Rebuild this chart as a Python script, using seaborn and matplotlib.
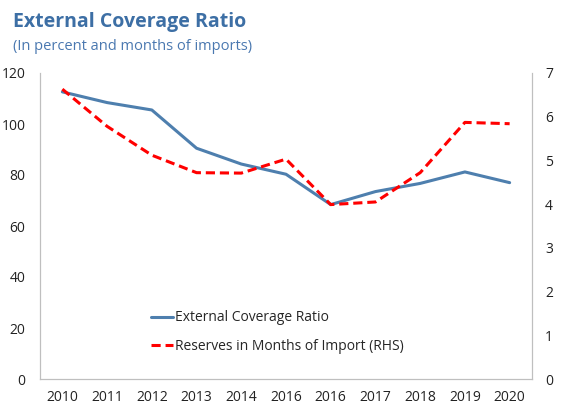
import numpy as np
import matplotlib.pyplot as plt
import pandas as pd
import seaborn as sns

anos = ["2010", "2011", "2012", "2013", "2014", "2016", "2016", "2017", "2018", "2019", "2020"]
cobertura = [112.6, 108.4, 105.5, 90.5, 84.3, 80.3, 68.4, 73.5, 76.7, 81.2, 77.0]
reservas = [6.63, 5.78, 5.12, 4.72, 4.71, 5.03, 3.99, 4.05, 4.72, 5.87, 5.84]

azul = "#4e7fae"
vermelho = "#ff0000"
cinza = "#bfbfbf"

sns.set_style("white")
plt.rcParams['font.family'] = ['Open Sans', 'DejaVu Sans']

df = pd.DataFrame({"pos": np.arange(len(anos)), "cobertura": cobertura, "reservas": reservas})

fig = plt.figure(figsize=(5.61, 4.11), dpi=100)
ax = fig.add_axes([40 / 561, 1 - 379 / 411, 492 / 561, 306 / 411])
ax2 = ax.twinx()

sns.lineplot(data=df, x="pos", y="cobertura", ax=ax, color=azul, linewidth=2.2,
             label="External Coverage Ratio", legend=False)
sns.lineplot(data=df, x="pos", y="reservas", ax=ax2, color=vermelho, linewidth=2.2,
             linestyle=(0, (3, 1.6)), label="Reserves in Months of Import (RHS)", legend=False)

ax.set_xlim(-0.5, len(anos) - 0.5)
ax.set_ylim(0, 120)
ax2.set_ylim(0, 7)
ax.set_yticks(range(0, 121, 20))
ax2.set_yticks(range(0, 8))
ax.set_xticks(df["pos"])
ax.set_xticklabels(anos)
ax.set_xlabel("")
ax.set_ylabel("")
ax2.set_ylabel("")

for a in (ax, ax2):
    a.tick_params(length=0, labelsize=10, colors="#222222")
    for lado in a.spines:
        a.spines[lado].set_color(cinza)
        a.spines[lado].set_linewidth(0.8)
    a.spines["top"].set_visible(False)
ax.tick_params(axis="y", pad=10.5)
ax2.tick_params(axis="y", pad=9.5)
ax.tick_params(axis="x", pad=8)

linhas = ax.get_lines() + ax2.get_lines()
ax.legend(linhas, [l.get_label() for l in linhas], loc="lower left",
          bbox_to_anchor=(0.2, 0.04), frameon=False, fontsize=10,
          handlelength=1.6, handletextpad=0.1, labelspacing=1.0)

fig.text(13 / 561, 1 - 22 / 411, "External Coverage Ratio", fontsize=14, fontweight="bold",
         color="#3d6fa5", va="center")
fig.text(13 / 561, 1 - 46 / 411, "(In percent and months of imports)", fontsize=10.5,
         color="#4a78b0", va="center")

plt.savefig("out.png", dpi=100)
